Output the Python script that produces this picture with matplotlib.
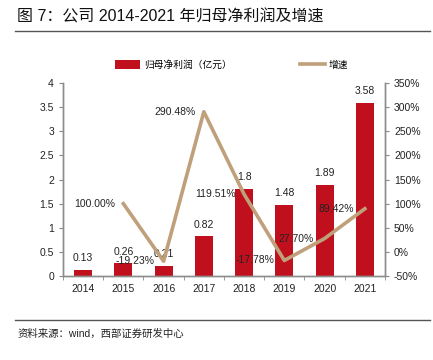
import matplotlib
matplotlib.use('Agg')
import matplotlib.pyplot as plt
from matplotlib.ticker import FuncFormatter
import numpy as np

plt.rcParams['font.family'] = ['Liberation Sans', 'Noto Sans CJK SC', 'DejaVu Sans']

# data
years = ['2014', '2015', '2016', '2017', '2018', '2019', '2020', '2021']
profit = [0.13, 0.26, 0.21, 0.82, 1.8, 1.48, 1.89, 3.58]
profit_labels = ['0.13', '0.26', '0.21', '0.82', '1.8', '1.48', '1.89', '3.58']
growth = [None, 100.00, -19.23, 290.48, 119.51, -17.78, 27.70, 89.42]

bar_color = '#C0101E'
line_color = '#BFA07A'

fig = plt.figure(figsize=(4.33, 3.6), dpi=100)
ax = fig.add_axes([0.1455, 0.2333, 0.7435, 0.5361])
ax2 = ax.twinx()

x = np.arange(len(years))
ax.bar(x, profit, width=0.45, color=bar_color, label='归母净利润（亿元）', zorder=2)
for i, v in enumerate(profit):
    ax.annotate(profit_labels[i], (x[i], v), xytext=(0, 5), textcoords='offset points',
                ha='center', va='bottom', fontsize=7.5, color='#222222')

gx = [x[i] for i, g in enumerate(growth) if g is not None]
gy = [g for g in growth if g is not None]
ax2.plot(gx, gy, color=line_color, linewidth=2.6, label='增速', zorder=3)
for xi, gi in zip(gx, gy):
    ax2.text(xi - 0.72, gi, '%.2f%%' % gi, ha='center', va='center', fontsize=7.5, color='#222222')

ax.set_xlim(-0.5, 7.5)
ax.set_ylim(0, 4)
ax.set_yticks(np.arange(0, 4.01, 0.5))
ax.yaxis.set_major_formatter(FuncFormatter(lambda v, p: ('%g' % v)))
ax2.set_ylim(-50, 350)
ax2.set_yticks(np.arange(-50, 351, 50))
ax2.yaxis.set_major_formatter(FuncFormatter(lambda v, p: '%d%%' % v))

ax.set_xticks(x)
ax.set_xticklabels(years)
ax.set_xticks(np.arange(-0.5, 7.6, 1), minor=True)
ax.tick_params(axis='x', which='major', length=0, labelsize=7.5, pad=6, colors='#222222')
ax.tick_params(axis='x', which='minor', length=3, direction='out', color='#888888')
ax.tick_params(axis='y', length=3, labelsize=7.5, colors='#222222', color='#888888')
ax2.tick_params(axis='y', length=3, labelsize=7.5, colors='#222222', color='#888888')

for a in (ax, ax2):
    a.spines['top'].set_visible(False)
    for s in ('left', 'right', 'bottom'):
        a.spines[s].set_color('#8c8c8c')
        a.spines[s].set_linewidth(1.0)
    a.set_facecolor('none')

h1, l1 = ax.get_legend_handles_labels()
h2, l2 = ax2.get_legend_handles_labels()
fig.legend(h1 + h2, l1 + l2, loc='center', bbox_to_anchor=(0.535, 0.82), ncol=2,
           frameon=False, fontsize=7, handlelength=2.6, handleheight=1.0,
           columnspacing=7.0, handletextpad=0.4)

fig.text(0.04, 0.952, '图 7：公司 2014-2021 年归母净利润及增速', fontsize=11.5,
         ha='left', va='center', color='#111111')
fig.add_artist(plt.Line2D([0.035, 0.993], [0.915, 0.915], color='#555555', linewidth=1.0))
fig.add_artist(plt.Line2D([0.035, 0.993], [0.111, 0.111], color='#555555', linewidth=1.0))
fig.text(0.04, 0.072, '资料来源：wind，西部证券研发中心', fontsize=7.5,
         ha='left', va='center', color='#222222')

fig.savefig('out.png', dpi=100)
